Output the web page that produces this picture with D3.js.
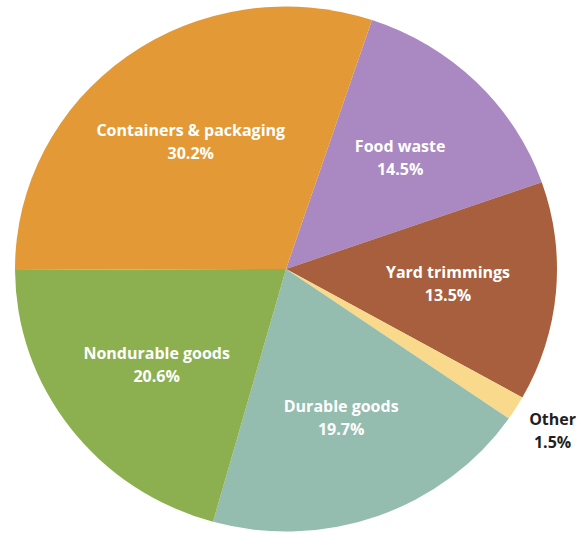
<!DOCTYPE html>
<html><head><meta charset="utf-8">
<script src="https://cdn.jsdelivr.net/npm/d3@7"></script>
<style>body{margin:0;background:#fff}svg{display:block}</style>
</head><body>
<svg id="c" width="577" height="533"></svg>
<script>
const categories = ["Food waste","Yard trimmings","Other","Durable goods","Nondurable goods","Containers & packaging"];
const values = [14.5, 13.5, 1.5, 19.7, 20.6, 30.2];
const valueLabels = ["14.5%","13.5%","1.5%","19.7%","20.6%","30.2%"];
const colors = ["#AA88C2","#A85F3D","#F9DA8D","#94BDAF","#8CB04F","#E39A36"];

const W = 577, H = 533;
const cx = 286, cy = 269, rx = 271, ry = 262.5;
const start = 18.5 * Math.PI / 180;
const svg = d3.select("#c");

const pie = d3.pie().sort(null).value(d => d.v).startAngle(start).endAngle(start + 2*Math.PI);
const data = categories.map((c,i) => ({c, v: values[i], lab: valueLabels[i], col: colors[i]}));
const arcs = pie(data);
const arc = d3.arc().innerRadius(0).outerRadius(ry);

const g = svg.append("g").attr("transform", `translate(${cx},${cy}) scale(${rx/ry},1)`);
g.selectAll("path").data(arcs).join("path")
  .attr("d", arc).attr("fill", d => d.data.col);

function pos(a, r){ return [cx + rx*r*Math.sin(a), cy - ry*r*Math.cos(a)]; }

const labels = svg.append("g")
  .style("font-family", "'Open Sans', sans-serif").style("font-weight", 700).style("font-size", "16px")
  .attr("text-anchor", "middle");
arcs.forEach(d => {
  const mid = (d.startAngle + d.endAngle)/2;
  const outside = d.data.v < 5;
  const [x, y] = pos(mid, outside ? 1.16 : 0.6);
  const t = labels.append("text").attr("fill", outside ? "#231F20" : "#FFFFFF");
  t.append("tspan").attr("x", x).attr("y", y - 5).text(d.data.c);
  t.append("tspan").attr("x", x).attr("y", y + 18).text(d.data.lab);
});
</script>
</body></html>
